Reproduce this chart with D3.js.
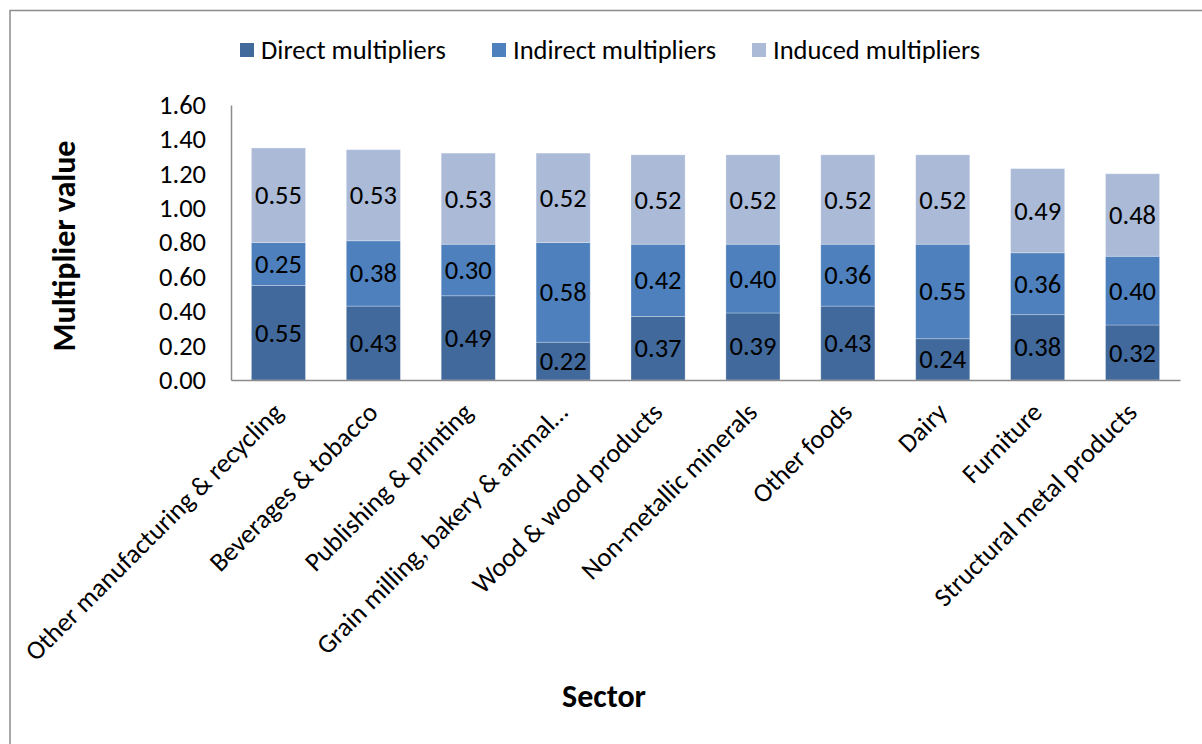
<!DOCTYPE html>
<html>
<head>
<meta charset="utf-8">
<script src="https://cdn.jsdelivr.net/npm/d3@7"></script>
<style>
  html, body { margin: 0; padding: 0; background: #ffffff; }
  svg { display: block; }
  text { font-family: Carlito, "Open Sans", "Liberation Sans", sans-serif; fill: #000; }
</style>
</head>
<body>
<svg id="chart" width="1202" height="744"></svg>
<script>
const categories = [
  "Other manufacturing & recycling",
  "Beverages & tobacco",
  "Publishing & printing",
  "Grain milling, bakery & animal…",
  "Wood & wood products",
  "Non-metallic minerals",
  "Other foods",
  "Dairy",
  "Furniture",
  "Structural metal products"
];
const seriesNames = ["Direct multipliers", "Indirect multipliers", "Induced multipliers"];
const directValues   = [0.55, 0.43, 0.49, 0.22, 0.37, 0.39, 0.43, 0.24, 0.38, 0.32];
const indirectValues = [0.25, 0.38, 0.30, 0.58, 0.42, 0.40, 0.36, 0.55, 0.36, 0.40];
const inducedValues  = [0.55, 0.53, 0.53, 0.52, 0.52, 0.52, 0.52, 0.52, 0.49, 0.48];
const yTicks = [0, 0.2, 0.4, 0.6, 0.8, 1.0, 1.2, 1.4, 1.6];
const yTitle = "Multiplier value";
const xTitle = "Sector";

const colors = ["#41699B", "#4D80BD", "#AABAD7"];
const keys = ["direct", "indirect", "induced"];
const FONT = "26.5px";

const rows = categories.map((c, i) => ({
  category: c,
  direct: directValues[i],
  indirect: indirectValues[i],
  induced: inducedValues[i]
}));

const svg = d3.select("#chart");

// outer chart border
svg.append("rect")
  .attr("x", 10).attr("y", 10.5)
  .attr("width", 1210).attr("height", 760)
  .attr("fill", "none").attr("stroke", "#8c8c8c").attr("stroke-width", 1.5);

const plot = { left: 231, right: 1180, top: 105, bottom: 380 };

const x = d3.scaleBand()
  .domain(categories)
  .range([plot.left, plot.right])
  .paddingInner(0.43)
  .paddingOuter(0.215);

const y = d3.scaleLinear()
  .domain([0, 1.6])
  .range([plot.bottom, plot.top]);

const stacked = d3.stack().keys(keys)(rows);

const layers = svg.append("g").selectAll("g.layer")
  .data(stacked)
  .join("g")
  .attr("class", "layer")
  .attr("fill", (d, i) => colors[i]);

layers.selectAll("rect")
  .data(d => d.map(p => ({ p, key: d.key })))
  .join("rect")
  .attr("x", d => x(d.p.data.category))
  .attr("width", x.bandwidth())
  .attr("y", d => y(d.p[1]))
  .attr("height", d => y(d.p[0]) - y(d.p[1]))
  .attr("stroke", "#ffffff")
  .attr("stroke-opacity", 0.35)
  .attr("stroke-width", 0.8);

// value labels
layers.selectAll("text")
  .data(d => d.map(p => ({ p, key: d.key })))
  .join("text")
  .attr("x", d => x(d.p.data.category) + x.bandwidth() / 2)
  .attr("y", d => (y(d.p[0]) + y(d.p[1])) / 2)
  .attr("dy", "0.34em")
  .attr("text-anchor", "middle")
  .style("font-size", FONT)
  .text(d => (d.p[1] - d.p[0]).toFixed(2));

// y axis
const yAxis = d3.axisLeft(y)
  .tickValues(yTicks)
  .tickFormat(d3.format(".2f"))
  .tickSize(0)
  .tickPadding(25);

const yg = svg.append("g")
  .attr("transform", `translate(${plot.left},0)`)
  .call(yAxis);
yg.select(".domain").attr("stroke", "#8c8c8c").attr("stroke-width", 1.5);
yg.selectAll(".tick text")
  .style("font-size", FONT)
  .style("font-family", 'Carlito, "Open Sans", sans-serif')
  .attr("fill", "#000");

// x axis
const xAxis = d3.axisBottom(x).tickSize(0).tickFormat("");
const xg = svg.append("g")
  .attr("transform", `translate(0,${plot.bottom})`)
  .call(xAxis);
xg.select(".domain").attr("stroke", "#8c8c8c").attr("stroke-width", 1.5);

// rotated category labels
svg.append("g").selectAll("text")
  .data(categories)
  .join("text")
  .attr("transform", d => `translate(${x(d) + x.bandwidth() / 2 + 6},414) rotate(-45)`)
  .attr("text-anchor", "end")
  .style("font-size", FONT)
  .text(d => d);

// axis titles
svg.append("text")
  .attr("transform", `translate(75,246) rotate(-90)`)
  .attr("text-anchor", "middle")
  .style("font-size", "32px")
  .style("font-weight", "bold")
  .text(yTitle);

svg.append("text")
  .attr("x", 604)
  .attr("y", 707)
  .attr("text-anchor", "middle")
  .style("font-size", "32px")
  .style("font-weight", "bold")
  .text(xTitle);

// legend
const legendX = [240, 492, 752];
const legend = svg.append("g").selectAll("g")
  .data(seriesNames)
  .join("g")
  .attr("transform", (d, i) => `translate(${legendX[i]},43)`);
legend.append("rect")
  .attr("width", 14).attr("height", 14)
  .attr("fill", (d, i) => colors[i]);
legend.append("text")
  .attr("x", 21)
  .attr("y", 7)
  .attr("dy", "0.34em")
  .style("font-size", FONT)
  .text(d => d);
</script>
</body>
</html>
